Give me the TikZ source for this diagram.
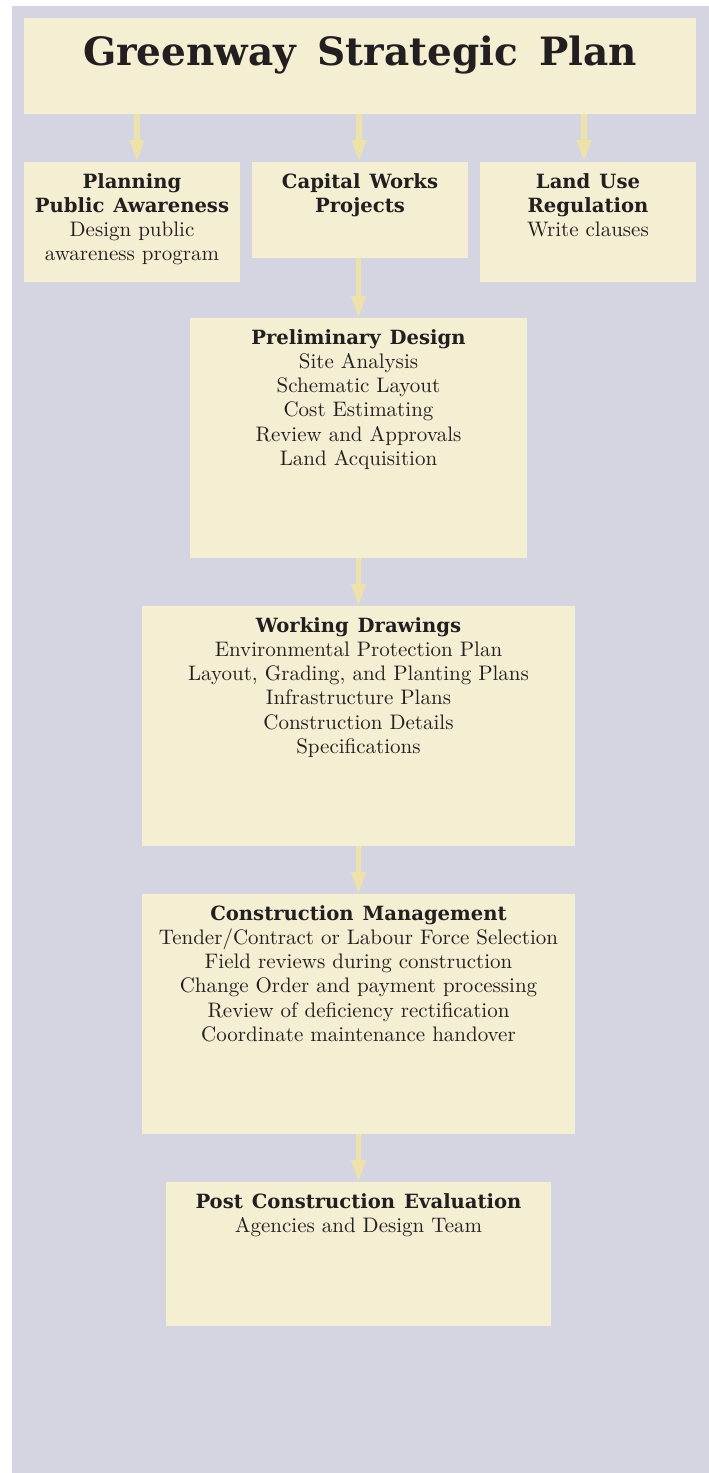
\documentclass[tikz,border=0pt]{standalone}
\usepackage{fontspec}
\usepackage{tikz}
\usetikzlibrary{arrows.meta, positioning, calc}
\newfontfamily\headfont{DejaVu Serif}
\newfontfamily\bodyfont{lmroman10-regular.otf}
\definecolor{panel}{RGB}{213,213,226}
\definecolor{boxfill}{RGB}{244,239,211}
\definecolor{flowline}{RGB}{236,226,170}
\definecolor{ink}{RGB}{35,31,32}
\newcommand{\stagehead}[1]{{\headfont\bfseries\fontsize{19.6}{24.3}\selectfont\spaceskip=9pt #1}}

\begin{document}
\begin{tikzpicture}[x=1pt, y=-1pt,
  stage/.style={fill=boxfill, inner sep=0pt, outer sep=0pt},
  stagetext/.style={anchor=base, inner sep=0pt, align=center, text=ink,
    font=\bodyfont\fontsize{21}{24.3}\selectfont},
  flow/.style={-{Triangle[width=13.3pt, length=22pt]}, line width=5.3pt, draw=flowline}]
  % page and panel
  \fill[white] (0,0) rectangle (709,1473);
  \fill[panel] (12,6) rectangle (709,1473);
  \useasboundingbox (0,0) rectangle (709,1473);

  % boxes
  \node[stage, minimum width=672pt, minimum height=96pt] (title) at (360,66) {};
  \node[stage, minimum width=216pt, minimum height=120pt] (publicaware) at (132,222) {};
  \node[stage, minimum width=216pt, minimum height=96pt] (capworks) at (360,210) {};
  \node[stage, minimum width=216pt, minimum height=120pt] (landuse) at (588,222) {};
  \node[stage, minimum width=337pt, minimum height=240pt] (prelim) at (358.5,438) {};
  \node[stage, minimum width=433pt, minimum height=240pt] (working) at (358.5,726) {};
  \node[stage, minimum width=433pt, minimum height=240pt] (construct) at (358.5,1014) {};
  \node[stage, minimum width=385pt, minimum height=144pt] (posteval) at (358.5,1254) {};

  % texts
  \node[stagetext, text width=660pt] (title-txt) at ([yshift=-47pt]title.north)
    {\headfont\bfseries\fontsize{39}{42}\selectfont\spaceskip=21pt Greenway Strategic Plan};
  \node[stagetext, text width=210pt] (publicaware-txt) at ([yshift=-26pt]publicaware.north)
    {\stagehead{Planning\\Public Awareness}\\Design public\\awareness program};
  \node[stagetext, text width=210pt] (capworks-txt) at ([yshift=-26pt]capworks.north)
    {\stagehead{Capital Works\\Projects}};
  \node[stagetext, text width=210pt] (landuse-txt) at ([yshift=-26pt]landuse.north)
    {\stagehead{Land Use\\Regulation}\\Write clauses};
  \node[stagetext, text width=330pt] (prelim-txt) at ([yshift=-26pt]prelim.north)
    {\stagehead{Preliminary Design}\\Site Analysis\\Schematic Layout\\Cost Estimating\\
     Review and Approvals\\Land Acquisition};
  \node[stagetext, text width=425pt] (working-txt) at ([yshift=-26pt]working.north)
    {\stagehead{Working Drawings}\\Environmental Protection Plan\\
     Layout, Grading, and Planting Plans\\Infrastructure Plans\\Construction Details\\Specifications};
  \node[stagetext, text width=425pt] (construct-txt) at ([yshift=-26pt]construct.north)
    {\stagehead{Construction Management}\\Tender/Contract or Labour Force Selection\\
     Field reviews during construction\\Change Order and payment processing\\
     Review of deficiency rectification\\Coordinate maintenance handover};
  \node[stagetext, text width=378pt] (posteval-txt) at ([yshift=-26pt]posteval.north)
    {\stagehead{Post Construction Evaluation}\\Agencies and Design Team};

  % arrows
  \draw[flow] ($(title.south -| publicaware.north)+(5,0)$) -- ($(publicaware.north)+(5,0)$);
  \draw[flow] ($(title.south -| capworks.north)+(-1,0)$) -- ($(capworks.north)+(-1,0)$);
  \draw[flow] ($(title.south -| landuse.north)+(-4,0)$) -- ($(landuse.north)+(-4,0)$);
  \draw[flow] (prelim.north |- capworks.south) -- (prelim.north);
  \draw[flow] (prelim) -- (working);
  \draw[flow] (working) -- (construct);
  \draw[flow] (construct) -- (posteval);
\end{tikzpicture}
\end{document}
